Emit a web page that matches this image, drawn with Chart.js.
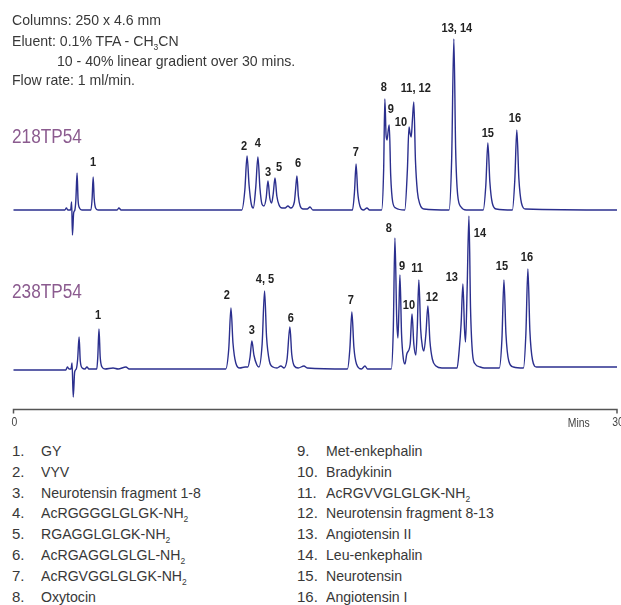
<!DOCTYPE html>
<html>
<head>
<meta charset="utf-8">
<script src="https://cdn.jsdelivr.net/npm/chart.js@4.4.1/dist/chart.umd.min.js"></script>
<style>
  body { margin: 0; background: #fff; }
  #wrap { position: relative; width: 621px; height: 605px; overflow: hidden;
          font-family: "Liberation Sans", Arial, sans-serif; color: #383838; }
  #chart { position: absolute; left: 0; top: 0; }
  .info { position: absolute; left: 12px; font-size: 15px; line-height: 20px; white-space: nowrap;
          transform: scaleX(0.94); transform-origin: 0 0; }
  .trace-name { position: absolute; left: 12px; font-size: 20px; color: #8b5b8f; line-height: 24px;
          transform: scaleX(0.86); transform-origin: 0 0; }
  .legend { position: absolute; top: 441px; font-size: 15px; line-height: 20.8px; white-space: nowrap; }
  .legend .num { display: inline-block; width: 29px; }
  .legend .txt { display: inline-block; transform: scaleX(0.94); transform-origin: 0 0; }
  sub { font-size: 9px; vertical-align: -4px; line-height: 0; }
</style>
</head>
<body>
<div id="wrap">
  <canvas id="chart" width="621" height="440"></canvas>
  <div class="info" style="top:10px">Columns: 250 x 4.6 mm</div>
  <div class="info" style="top:31px">Eluent: 0.1% TFA - CH<sub>3</sub>CN</div>
  <div class="info" style="top:51px; left:57px">10 - 40% linear gradient over 30 mins.</div>
  <div class="info" style="top:70px">Flow rate: 1 ml/min.</div>
  <div class="trace-name" id="name0" style="top:124px"></div>
  <div class="trace-name" id="name1" style="top:279px"></div>
  <div class="legend" id="legA" style="left:12px"></div>
  <div class="legend" id="legB" style="left:297px"></div>
</div>
<script>
// ---- data ----
const traceNames = ['218TP54', '238TP54'];
const xTicks = [0, 30];

// 218TP54 trace: time (min) and signal above its own baseline
const topTime = [0, 2.55, 2.63, 2.70, 2.84, 2.89, 2.93, 2.99, 3.05, 3.10, 3.16, 3.21, 3.28, 3.40,
  3.85, 3.91, 3.96, 4.01, 4.08, 4.20, 5.15, 5.24, 5.35,
  11.35, 11.50, 11.61, 11.71, 11.82, 11.92, 12.04, 12.15, 12.25, 12.35, 12.45, 12.56, 12.65, 12.74,
  12.83, 12.91, 13.00, 13.09, 13.20, 13.35, 13.50, 13.64, 13.78, 13.96, 14.02, 14.09, 14.16, 14.25,
  14.40, 14.60, 14.74, 14.88,
  16.85, 16.95, 17.03, 17.11, 17.22, 17.40, 17.57, 17.70,
  18.30, 18.40, 18.46, 18.52, 18.57, 18.63, 18.68, 18.75, 18.85, 19.00,
  19.45, 19.58, 19.66, 19.72, 19.77, 19.83, 19.90, 19.98, 20.08, 20.20, 20.40,
  21.65, 21.78, 21.89, 21.98, 22.08, 22.25, 22.50,
  23.35, 23.48, 23.58, 23.68, 23.80, 24.00,
  24.80, 24.92, 25.02, 25.12, 25.25, 25.45, 30];
const topSignal = [0, 0, 2, 0, 0, 8, -25, -3, 0, 10, 37, 10, 2, 0,
  0, 12, 33, 12, 2, 0, 0, 2, 0,
  0, 20, 54, 25, 6, 2, 22, 53, 22, 6, 4, 12, 29, 12,
  7, 16, 32, 14, 5, 2, 2, 4, 2, 8, 20, 34, 14, 4,
  1, 1, 3, 0,
  0, 18, 46, 18, 4, 0, 2, 0,
  0, 40, 111, 75, 70, 80, 85, 35, 8, 2,
  0, 40, 83, 76, 73, 90, 108, 50, 18, 6, 1,
  0, 50, 171, 60, 15, 3, 0,
  0, 25, 67, 28, 7, 1,
  0, 30, 80, 32, 7, 1, 0];

// 238TP54 trace
const bottomTime = [0, 2.60, 2.68, 2.76, 2.86, 2.91, 2.97, 3.04, 3.12, 3.19, 3.26, 3.32, 3.42, 3.55, 3.65, 3.75,
  4.14, 4.19, 4.25, 4.31, 4.40, 4.55, 4.95, 5.20, 5.59, 5.75,
  10.55, 10.70, 10.81, 10.91, 11.05, 11.25, 11.51, 11.65, 11.76, 11.85, 11.95, 12.10, 12.20,
  12.36, 12.48, 12.58, 12.72, 12.90, 13.10, 13.29, 13.45, 13.60, 13.74, 13.83, 13.96, 14.15, 14.44, 14.60,
  16.60, 16.72, 16.82, 16.92, 17.05, 17.30, 17.47, 17.60,
  18.78, 18.88, 18.96, 19.05, 19.11, 19.16, 19.21, 19.29, 19.38, 19.46, 19.55, 19.72, 19.81, 19.90,
  20.00, 20.07, 20.15, 20.24, 20.33, 20.40, 20.50, 20.60, 20.70, 20.82, 21.00, 21.30,
  22.05, 22.16, 22.25, 22.34, 22.42, 22.47, 22.55, 22.64, 22.72, 22.82, 22.95, 23.20, 23.40,
  24.15, 24.28, 24.38, 24.48, 24.62, 24.85,
  25.35, 25.47, 25.57, 25.67, 25.80, 26.00, 30];
const bottomSignal = [-1, -1, 2, 0, 0, 6, -28, -3, 0, 10, 32, 8, 1, 0, 2, 0,
  0, 12, 40, 12, 2, 0, 1, 0, 2, 0,
  0, 20, 61, 26, 6, 1, 2, 2, 12, 28, 14, 4, 2,
  25, 78, 32, 8, 2, 1, 3, 1, 10, 42, 15, 3, 1, 3, 1,
  0, 20, 57, 22, 5, 0, 3, 0,
  0, 40, 131, 50, 31, 60, 94, 35, 10, 5, 15, 25, 55, 25,
  14, 40, 89, 40, 22, 18, 35, 63, 28, 10, 3, 1,
  1, 20, 45, 85, 40, 27, 80, 153, 60, 15, 5, 2, 1,
  1, 30, 89, 35, 8, 2,
  1, 35, 100, 38, 9, 2, 2];

// peak labels: text, time and signal level where the label sits
const topLabelText  = ['1', '2', '4', '3', '5', '6', '7', '8', '9', '10', '11, 12', '13, 14', '15', '16'];
const topLabelTime  = [3.95, 11.46, 12.15, 12.65, 13.20, 14.14, 17.02, 18.41, 18.76, 19.26, 20.0, 22.04, 23.58, 24.93];
const topLabelLevel = [48, 64, 67, 38, 43, 47, 58, 123, 101, 88, 122, 182, 77, 92];
const bottomLabelText  = ['1', '2', '3', '4, 5', '6', '7', '8', '9', '10', '11', '12', '13', '14', '15', '16'];
const bottomLabelTime  = [4.20, 10.61, 11.85, 12.50, 13.79, 16.77, 18.66, 19.31, 19.66, 20.06, 20.80, 21.79, 23.19, 24.28, 25.52];
const bottomLabelLevel = [54, 74, 39, 90, 51, 69, 141, 103, 64, 101, 72, 92, 136, 103, 112];

const compounds = ['GY', 'VYV', 'Neurotensin fragment 1-8', 'AcRGGGGLGLGK-NH2', 'RGAGGLGLGK-NH2',
  'AcRGAGGLGLGL-NH2', 'AcRGVGGLGLGK-NH2', 'Oxytocin', 'Met-enkephalin', 'Bradykinin',
  'AcRGVVGLGLGK-NH2', 'Neurotensin fragment 8-13', 'Angiotensin II', 'Leu-enkephalin',
  'Neurotensin', 'Angiotensin I'];

// ---- layout (vertical stacking of the two traces, in signal units) ----
const traceOffset = [200, 41];
const lineColor = '#2b2f8e';

function toPoints(times, values, off) {
  return times.map((t, i) => ({ x: t, y: values[i] + off }));
}

document.getElementById('name0').textContent = traceNames[0];
document.getElementById('name1').textContent = traceNames[1];

function legendHtml(list, start) {
  return list.map((name, i) => {
    const label = name.replace(/NH2$/, 'NH<sub>2</sub>');
    return '<div><span class="num">' + (start + i) + '.</span><span class="txt">' + label + '</span></div>';
  }).join('');
}
document.getElementById('legA').innerHTML = legendHtml(compounds.slice(0, 8), 1);
document.getElementById('legB').innerHTML = legendHtml(compounds.slice(8), 9);

// condensed text on canvas
function narrowText(ctx, text, px, py, sx) {
  ctx.save();
  ctx.translate(px, py);
  ctx.scale(sx, 1);
  ctx.fillText(text, 0, 0);
  ctx.restore();
}

const overlay = {
  id: 'overlay',
  afterDatasetsDraw(chart) {
    const { ctx, chartArea, scales: { x, y } } = chart;
    ctx.save();
    // x axis
    const ay = chartArea.bottom - 0.5;
    ctx.strokeStyle = '#555';
    ctx.lineWidth = 1.5;
    ctx.beginPath();
    ctx.moveTo(x.getPixelForValue(xTicks[0]), ay);
    ctx.lineTo(x.getPixelForValue(xTicks[xTicks.length - 1]), ay);
    xTicks.forEach(v => {
      const px = x.getPixelForValue(v);
      ctx.moveTo(px, ay - 0.75);
      ctx.lineTo(px, ay + 4);
    });
    ctx.stroke();
    ctx.fillStyle = '#444';
    ctx.font = '13px "Liberation Sans", Arial, sans-serif';
    ctx.textAlign = 'center';
    ctx.textBaseline = 'middle';
    xTicks.forEach(v => narrowText(ctx, String(v), x.getPixelForValue(v) + 1, ay + 13, 0.8));
    narrowText(ctx, 'Mins', x.getPixelForValue(28.1), ay + 14, 0.8);

    // peak labels
    ctx.fillStyle = '#222';
    ctx.font = 'bold 13px "Liberation Sans", Arial, sans-serif';
    const drawLabels = (texts, times, levels, off) => {
      texts.forEach((t, i) => {
        narrowText(ctx, t, x.getPixelForValue(times[i]), y.getPixelForValue(levels[i] + off), 0.85);
      });
    };
    drawLabels(topLabelText, topLabelTime, topLabelLevel, traceOffset[0]);
    drawLabels(bottomLabelText, bottomLabelTime, bottomLabelLevel, traceOffset[1]);
    ctx.restore();
  }
};

new Chart(document.getElementById('chart'), {
  type: 'line',
  data: {
    datasets: [
      { label: traceNames[0], data: toPoints(topTime, topSignal, traceOffset[0]) },
      { label: traceNames[1], data: toPoints(bottomTime, bottomSignal, traceOffset[1]) }
    ].map(d => Object.assign(d, {
      borderColor: lineColor,
      borderWidth: 1.4,
      pointRadius: 0,
      fill: false,
      cubicInterpolationMode: 'monotone',
      clip: false
    }))
  },
  options: {
    responsive: false,
    animation: false,
    layout: { padding: { left: 13.5, right: 4, top: 0, bottom: 30 } },
    plugins: { legend: { display: false }, tooltip: { enabled: false } },
    scales: {
      x: { type: 'linear', min: 0, max: 30, display: false },
      y: { min: 0, max: 410, display: false }
    }
  },
  plugins: [overlay]
});
</script>
</body>
</html>
